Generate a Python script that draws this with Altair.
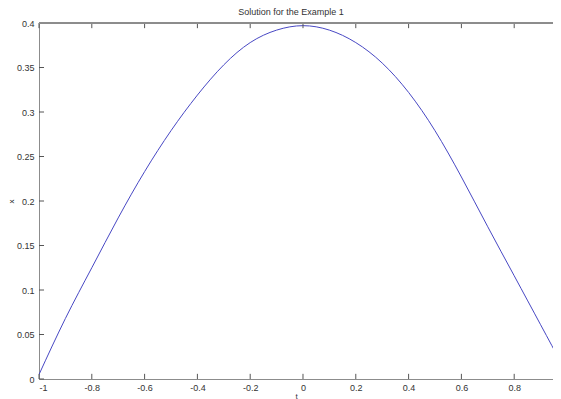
import altair as alt
import pandas as pd

# data
t_values = [-1.0, -0.9, -0.8, -0.7, -0.6, -0.5, -0.4, -0.3, -0.2, -0.1, 0.0,
            0.1, 0.2, 0.3, 0.4, 0.5, 0.6, 0.7, 0.8, 0.9, 0.98]
x_values = [0.005, 0.068, 0.125, 0.181, 0.233, 0.279, 0.319, 0.353, 0.378, 0.392, 0.397,
            0.392, 0.378, 0.355, 0.322, 0.279, 0.227, 0.171, 0.116, 0.061, 0.017]
x_ticks = [-1, -0.8, -0.6, -0.4, -0.2, 0, 0.2, 0.4, 0.6, 0.8]
y_ticks = [0, 0.05, 0.1, 0.15, 0.2, 0.25, 0.3, 0.35, 0.4]
x_domain = [-1, 0.947]
y_domain = [0, 0.4]

df = pd.DataFrame({"t": t_values, "x": x_values})
xt = pd.DataFrame({"t": x_ticks})
yt = pd.DataFrame({"x": y_ticks})

FONT = "Liberation Sans"
xscale = alt.Scale(domain=x_domain, nice=False, zero=False)
yscale = alt.Scale(domain=y_domain, nice=False, zero=False)
xaxis = alt.Axis(values=x_ticks, title="t", labelExpr="'' + datum.value",
                 tickSize=0, labelPadding=4, titlePadding=0,
                 titleFontSize=8, titleFontWeight="normal")
yaxis = alt.Axis(values=y_ticks, title="x", labelExpr="'' + datum.value",
                 tickSize=0, labelPadding=5, titlePadding=1,
                 titleFontSize=8, titleFontWeight="normal")

line = alt.Chart(df).mark_line(color="#4848c4", strokeWidth=1, interpolate="natural",
                               clip=True).encode(
    x=alt.X("t:Q", scale=xscale, axis=xaxis),
    y=alt.Y("x:Q", scale=yscale, axis=yaxis),
)

bottom_ticks = alt.Chart(xt).mark_rule(color="#555555", strokeWidth=1).encode(
    x=alt.X("t:Q", scale=xscale, axis=xaxis),
    y=alt.datum(0, scale=yscale),
    y2=alt.datum(0.0058),
)
top_ticks = alt.Chart(xt).mark_rule(color="#555555", strokeWidth=1).encode(
    x=alt.X("t:Q", scale=xscale, axis=xaxis),
    y=alt.datum(0.4, scale=yscale),
    y2=alt.datum(0.3942),
)
left_ticks = alt.Chart(yt).mark_rule(color="#555555", strokeWidth=1).encode(
    y=alt.Y("x:Q", scale=yscale, axis=yaxis),
    x=alt.datum(-1, scale=xscale),
    x2=alt.datum(-0.981),
)
top_border = alt.Chart(xt).mark_rule(color="#8c8c8c", strokeWidth=1).encode(
    x=alt.datum(x_domain[0], scale=xscale),
    x2=alt.datum(x_domain[1]),
    y=alt.datum(0.4, scale=yscale),
)

chart = alt.layer(line, bottom_ticks, top_ticks, left_ticks, top_border).properties(
    width=514,
    height=356,
    autosize=alt.AutoSizeParams(type="none"),
    padding={"left": 31, "top": 15, "right": 0, "bottom": 20},
    title=alt.TitleParams("Solution for the Example 1", font=FONT, fontSize=9,
                          fontWeight="normal", color="#333333", anchor="middle",
                          dx=-5, offset=2),
).configure_axis(
    labelFont=FONT, labelFontSize=9, labelColor="#333333",
    titleFont=FONT, titleColor="#333333",
    domainColor="#8c8c8c", domainWidth=1, grid=False,
).configure_view(stroke=None)

chart.save("out.html", embed_options={"renderer": "svg", "actions": False})
